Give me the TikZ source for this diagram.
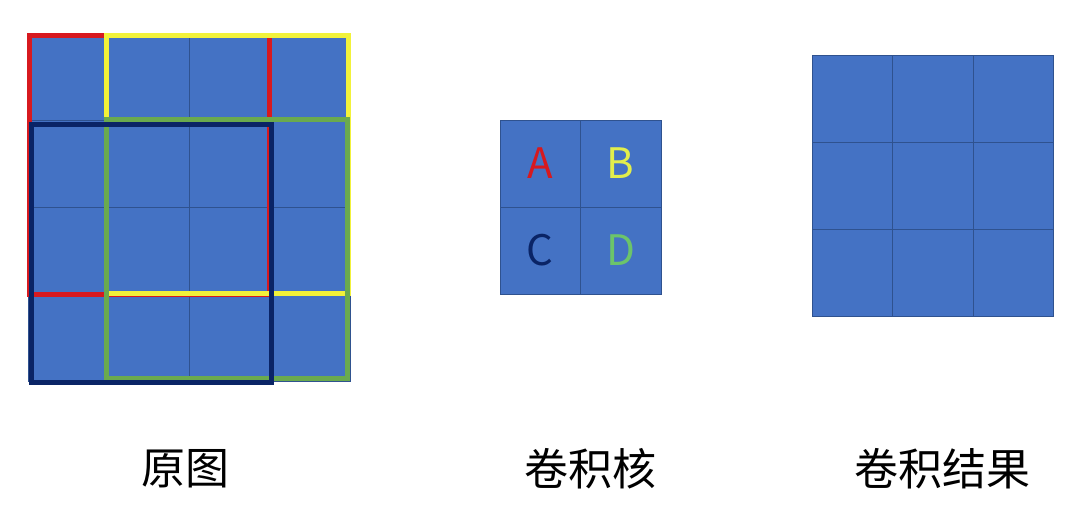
\documentclass[tikz,border=0pt]{standalone}
\usepackage{fontspec}
\setmainfont{Noto Sans CJK SC}
\definecolor{cellblue}{HTML}{4472C4}
\definecolor{cellline}{HTML}{2F528F}
\definecolor{fred}{HTML}{D7191F}
\definecolor{fyellow}{HTML}{F2F23A}
\definecolor{fgreen}{HTML}{6AAA4E}
\definecolor{fnavy}{HTML}{0A2466}
\definecolor{lyellow}{HTML}{E2EE4C}
\definecolor{lgreen}{HTML}{6CC46A}
\tikzset{
  cell/.style={draw=cellline, fill=cellblue, line width=0.6pt, minimum width=80.5pt,
    minimum height=87pt, inner sep=0pt, outer sep=0pt, anchor=north west},
  frame/.style={line width=5pt},
  letter/.style={font=\fontsize{42}{42}\selectfont},
  caption/.style={font=\fontsize{44}{48}\selectfont}
}

\begin{document}
\begin{tikzpicture}[x=1pt,y=-1pt]
  \useasboundingbox (0,0) rectangle (1080,514);

  % original image, 4x4
  \foreach \r in {1,...,4}
    \foreach \c in {1,...,4}
      \node[cell] (img-\r-\c) at ({28+(\c-1)*80.5},{33+(\r-1)*87}) {};
  \draw[frame, fred] ([shift={(1.5,2)}]img-1-1.north west) rectangle (img-3-3.south east);
  \draw[frame, fyellow] ([shift={(-2,2)}]img-1-2.north west) rectangle ([shift={(-2,-1)}]img-3-4.south east);
  \draw[frame, fgreen] ([shift={(-2,-1)}]img-2-2.north west) rectangle ([shift={(-3,-3)}]img-4-4.south east);
  \draw[frame, fnavy] ([shift={(3,4)}]img-2-1.north west) rectangle ([shift={(1.5,1)}]img-4-3.south east);

  % kernel, 2x2
  \foreach \r in {1,2}
    \foreach \c in {1,2}
      \node[cell] (ker-\r-\c) at ({500+(\c-1)*80.5},{120+(\r-1)*87}) {};
  \node[letter, text=fred] (ka) at (ker-1-1) {A};
  \node[letter, text=lyellow] (kb) at (ker-1-2) {B};
  \node[letter, text=fnavy] (kc) at (ker-2-1) {C};
  \node[letter, text=lgreen] (kd) at (ker-2-2) {D};

  % result, 3x3
  \foreach \r in {1,...,3}
    \foreach \c in {1,...,3}
      \node[cell] (res-\r-\c) at ({812+(\c-1)*80.5},{55+(\r-1)*87}) {};

  \node[caption] (img-label) at (185,469) {原图};
  \node[caption] (ker-label) at (590,469) {卷积核};
  \node[caption] (res-label) at (942,469) {卷积结果};
\end{tikzpicture}
\end{document}
